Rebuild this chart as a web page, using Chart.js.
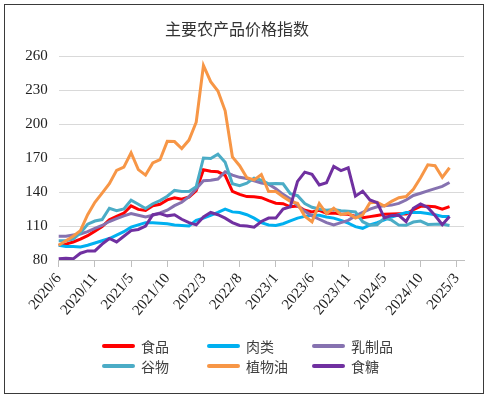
<!DOCTYPE html>
<html>
<head>
<meta charset="utf-8">
<script src="https://cdn.jsdelivr.net/npm/chart.js"></script>
<style>
  body { margin: 0; background: #fff; }
  #wrap { position: relative; width: 490px; height: 399px; overflow: hidden; }
  #frame { position: absolute; left: 4px; top: 4px; width: 480px; height: 390px;
           border: 1.5px solid #3a3a3a; box-sizing: border-box; pointer-events: none; }
  #chart { position: absolute; left: 0; top: 0; }
  .lg { position: absolute; display: flex; align-items: center;
        font-family: "Noto Sans CJK SC", "Noto Sans", sans-serif; font-size: 14px; color: #404040; }
  .lg i { display: inline-block; width: 33px; height: 3.5px; margin-right: 6px; border-radius: 2px; }
</style>
</head>
<body>
<div id="wrap">
  <canvas id="chart" width="490" height="399"></canvas>
  <div id="legend"></div>
  <div id="frame"></div>
</div>
<script>
// x 轴月份（2021/1、2024/1 无数据，最后一格留空）
const monthLabels = [
  '2020/6','2020/7','2020/8','2020/9','2020/10','2020/11','2020/12',
  '2021/2','2021/3','2021/4','2021/5','2021/6','2021/7','2021/8','2021/9','2021/10','2021/11','2021/12',
  '2022/1','2022/2','2022/3','2022/4','2022/5','2022/6','2022/7','2022/8','2022/9','2022/10','2022/11','2022/12',
  '2023/1','2023/2','2023/3','2023/4','2023/5','2023/6','2023/7','2023/8','2023/9','2023/10','2023/11','2023/12',
  '2024/2','2024/3','2024/4','2024/5','2024/6','2024/7','2024/8','2024/9','2024/10','2024/11','2024/12',
  '2025/1','2025/2','2025/3',''
];
const yTicks = [80, 110, 140, 170, 200, 230, 260];

// 各类指数
const food = [93.1, 94.0, 95.9, 98.5, 101.5, 105.5, 109.5, 115.5, 118.5, 121.3,
  127.8, 124.7, 123.8, 128.0, 129.2, 133.1, 135.0, 133.7, 135.6, 141.2,
  159.7, 158.4, 157.9, 154.7, 140.7, 138.0, 136.0, 135.9, 135.0, 132.4,
  130.2, 129.7, 127.0, 127.7, 124.0, 122.4, 123.9, 121.4, 121.5, 120.6,
  120.4, 118.5, 117.3, 118.3, 119.3, 120.4, 120.6, 120.8, 120.7, 124.4,
  127.4, 127.5, 127.0, 124.9, 127.1];
const meat = [93, 92, 92, 91.5, 93, 95, 97, 99, 102, 105,
  109, 111, 113, 113, 112.5, 112, 111, 110.5, 110, 115,
  117, 119.5, 122, 125, 122.5, 122, 120, 117, 113, 111,
  110.5, 112, 114.5, 117, 118.5, 119.5, 119.5, 118, 117, 115,
  112.5, 109.5, 108, 111, 113, 115.5, 118, 120, 122, 122,
  122, 121, 120, 118.5, 118.5];
const dairy = [101, 101, 102, 103, 105, 108, 110.5, 114, 116.5, 119,
  121, 119.5, 118, 119.5, 121.5, 124, 128, 131, 136, 143,
  150, 150.5, 151.5, 158, 155, 153, 152, 150, 148, 147,
  143, 138, 134, 128, 123, 119, 116, 113, 111, 113,
  115, 119, 122, 125, 127, 128, 128.5, 130, 133, 137,
  139, 141, 143, 145, 148.5];
const cereals = [96.9, 96.9, 98.4, 104.0, 111.6, 114.4, 115.7, 125.7, 123.6, 125.1,
  132.8, 129.3, 125.5, 129.7, 132.5, 136.3, 141.5, 140.6, 140.6, 144.8,
  170.1, 169.7, 173.5, 166.3, 147.3, 145.6, 147.8, 152.3, 150.5, 147.3,
  147.5, 147.3, 138.6, 136.8, 129.8, 126.6, 125.0, 124.0, 124.5, 123.5,
  123.0, 122.5, 113.8, 110.8, 111.2, 117.0, 115.2, 110.8, 110.6, 113.5,
  114.4, 111.4, 111.5, 111.7, 110.5];
const vegOil = [93, 97, 101, 106, 120, 131, 139, 147.4, 159.2, 162.0,
  174.7, 159.8, 155.0, 165.7, 168.6, 184.8, 184.6, 178.5, 185.9, 201.7,
  251.8, 237.5, 229.3, 211.8, 171.1, 163.3, 152.6, 150.8, 155.5, 140.5,
  140.4, 135.9, 131.8, 130.0, 118.7, 113.8, 129.9, 120.9, 125.8, 120.0,
  121.4, 117.0, 119.9, 130.6, 130.9, 127.7, 131.8, 135.0, 136.0, 142.4,
  152.7, 164.1, 163.3, 153.0, 161.5];
const sugar = [81, 81.5, 81, 86, 88, 88, 94, 99, 96, 101,
  106, 107, 110, 120, 121, 119, 120, 116, 113, 111,
  118, 122, 120, 117, 113, 110.5, 110, 109, 114, 117,
  117, 125, 127, 149.4, 157.6, 155.7, 146.3, 148.2, 162.7, 159.0,
  161.4, 136.4, 140.8, 133.1, 130.6, 117.1, 119.4, 119.5, 113.9, 125.7,
  129.6, 126.4, 119.3, 111.2, 118.5];

const seriesNames = ['食品', '肉类', '乳制品', '谷物', '植物油', '食糖'];
const seriesColors = ['#ff0000', '#00b0f0', '#8672b0', '#4bacc6', '#f79646', '#7030a0'];
const seriesData = [food, meat, dairy, cereals, vegOil, sugar];

const datasets = seriesNames.map((name, i) => ({
  label: name,
  data: seriesData[i],
  borderColor: seriesColors[i],
  backgroundColor: seriesColors[i],
  borderWidth: 3,
  pointRadius: 0,
  tension: 0,
  fill: false,
  order: seriesNames.length - i // 后面的系列画在上层
}));

const ctx = document.getElementById('chart').getContext('2d');
new Chart(ctx, {
  type: 'line',
  data: { labels: monthLabels, datasets: datasets },
  options: {
    responsive: false,
    animation: false,
    devicePixelRatio: 1,
    layout: { padding: { left: 10, right: 26, top: 4, bottom: 69 } },
    plugins: {
      legend: { display: false },
      tooltip: { enabled: false },
      title: {
        display: true,
        text: '主要农产品价格指数',
        color: '#333',
        font: { family: '"Noto Sans CJK SC", sans-serif', size: 16, weight: 'normal' },
        padding: { top: 15, bottom: 18 }
      }
    },
    scales: {
      x: {
        type: 'category',
        offset: false,
        afterFit: s => { s.height = 70; },
        grid: {
          drawOnChartArea: false,
          drawTicks: true,
          tickLength: 7,
          color: c => (c.index % 5 === 0 && c.index < monthLabels.length - 1) ? '#bfbfbf' : 'rgba(0,0,0,0)'
        },
        border: { display: true, color: '#bfbfbf', width: 1 },
        ticks: {
          autoSkip: false,
          minRotation: 50,
          maxRotation: 50,
          padding: 3,
          color: '#222',
          font: { family: '"Liberation Serif", serif', size: 15 },
          callback: (v, i) => (i % 5 === 0 ? monthLabels[i] : '')
        }
      },
      y: {
        min: yTicks[0],
        max: yTicks[yTicks.length - 1],
        afterFit: s => { s.width = 48.7; },
        afterBuildTicks: s => { s.ticks = yTicks.map(v => ({ value: v })); },
        grid: { color: '#d9d9d9', drawTicks: false, lineWidth: 1 },
        border: { display: false },
        ticks: {
          padding: 11,
          color: '#222',
          font: { family: '"Liberation Serif", serif', size: 15 }
        }
      }
    }
  }
});

// 图例：三列两行
const legend = document.getElementById('legend');
const colX = [102, 207, 312];
const rowY = [336, 356];
seriesNames.forEach((name, i) => {
  const d = document.createElement('div');
  d.className = 'lg';
  d.style.left = colX[i % 3] + 'px';
  d.style.top = rowY[Math.floor(i / 3)] + 'px';
  d.innerHTML = '<i style="background:' + seriesColors[i] + '"></i>' + name;
  legend.appendChild(d);
});
</script>
</body>
</html>
